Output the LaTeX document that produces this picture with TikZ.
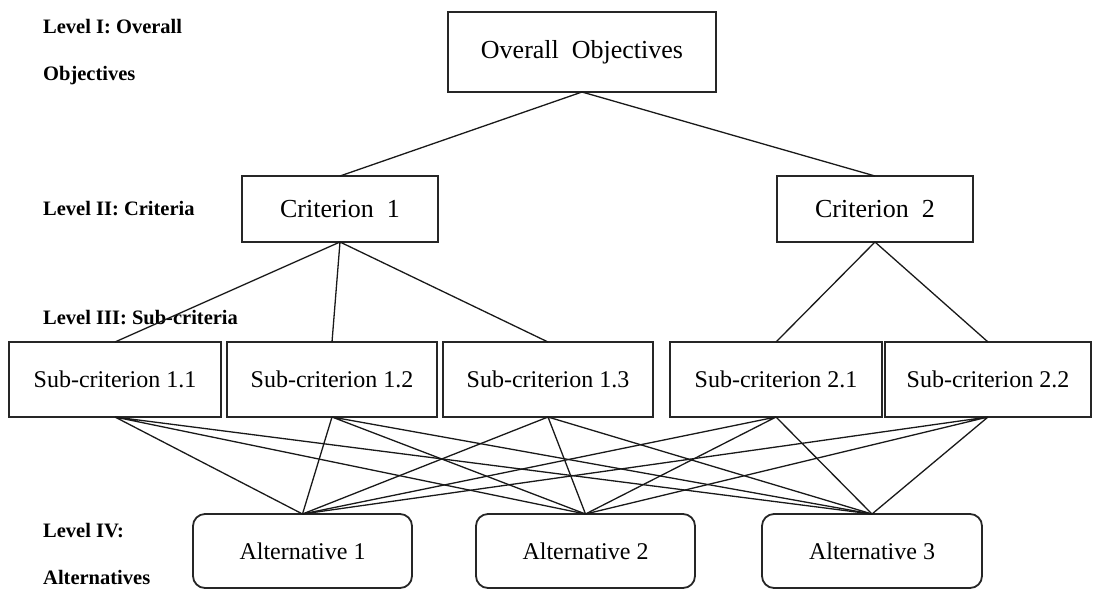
\documentclass[tikz,border=0pt]{standalone}
\usepackage{fontspec}
\setmainfont{Liberation Serif}
\usepackage{tikz}

\begin{document}
\begin{tikzpicture}[x=1pt,y=-1pt,
  box/.style={rectangle,draw=black!85,line width=1.8pt,inner sep=0pt,outer sep=0pt,font=\fontsize{24}{28}\selectfont},
  alt/.style={box,rounded corners=12pt},
  level/.style={anchor=west,inner sep=0pt,font=\fontsize{20.5}{24}\selectfont\bfseries},
  link/.style={draw=black!90,line width=1.3pt}]
\useasboundingbox (0,0) rectangle (1094,590);
\node[box,minimum width=268pt,minimum height=80pt,font=\fontsize{26}{30}\selectfont] (goal) at (582,52) {Overall\ \ Objectives};
\node[box,minimum width=196pt,minimum height=66pt,font=\fontsize{26}{30}\selectfont] (crit1) at (340,209) {Criterion\ \ 1};
\node[box,minimum width=196pt,minimum height=66pt,font=\fontsize{26}{30}\selectfont] (crit2) at (875,209) {Criterion\ \ 2};
\node[box,minimum width=212pt,minimum height=75pt] (sub11) at (115,379.5) {Sub-criterion 1.1};
\node[box,minimum width=210pt,minimum height=75pt] (sub12) at (332,379.5) {Sub-criterion 1.2};
\node[box,minimum width=210pt,minimum height=75pt] (sub13) at (548,379.5) {Sub-criterion 1.3};
\node[box,minimum width=212pt,minimum height=75pt] (sub21) at (776,379.5) {Sub-criterion 2.1};
\node[box,minimum width=206pt,minimum height=75pt] (sub22) at (988,379.5) {Sub-criterion 2.2};
\node[alt,minimum width=219pt,minimum height=74pt] (alt1) at (302.5,551) {Alternative 1};
\node[alt,minimum width=219pt,minimum height=74pt] (alt2) at (585.5,551) {Alternative 2};
\node[alt,minimum width=220pt,minimum height=74pt] (alt3) at (872,551) {Alternative 3};
\node[level] (lev1a) at (43,27) {Level I: Overall};
\node[level] (lev1b) at (43,76) {Objectives};
\node[level] (lev2) at (43,209) {Level II: Criteria};
\node[level] (lev3) at (43,318) {Level III: Sub-criteria};
\node[level] (lev4a) at (43,531) {Level IV:};
\node[level] (lev4b) at (43,577) {Alternatives};
% goal to criteria
\draw[link] (goal.south) -- (crit1.north) (goal.south) -- (crit2.north);
% criteria to sub-criteria
\draw[link] (crit1.south) -- (sub11.north) (crit1.south) -- (sub12.north) (crit1.south) -- (sub13.north);
\draw[link] (crit2.south) -- (sub21.north) (crit2.south) -- (sub22.north);
% sub-criteria to alternatives
\draw[link] (sub11.south) -- (alt1.north) (sub11.south) -- (alt2.north) (sub11.south) -- (alt3.north);
\draw[link] (sub12.south) -- (alt1.north) (sub12.south) -- (alt2.north) (sub12.south) -- (alt3.north);
\draw[link] (sub13.south) -- (alt1.north) (sub13.south) -- (alt2.north) (sub13.south) -- (alt3.north);
\draw[link] (sub21.south) -- (alt1.north) (sub21.south) -- (alt2.north) (sub21.south) -- (alt3.north);
\draw[link] (sub22.south) -- (alt1.north) (sub22.south) -- (alt2.north) (sub22.south) -- (alt3.north);
\end{tikzpicture}
\end{document}
